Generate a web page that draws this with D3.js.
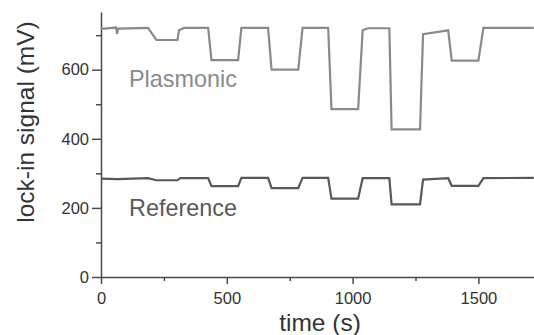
<!DOCTYPE html>
<meta charset="utf-8">
<style>

body {
  margin: 0;
  background: #fff;
}

text {
  font-family: "Liberation Sans", Arial, sans-serif;
}

.axis path,
.axis line {
  stroke: #4a4a4a;
  stroke-width: 1.5px;
}

.axis text {
  font-size: 16.5px;
  fill: #333;
}

</style>
<body>
<script src="https://cdn.jsdelivr.net/npm/d3@7/dist/d3.min.js"></script>
<script>

// step traces: [time (s), signal (mV)]
var plasmonic = [
  [0, 718], [60, 722], [64, 704], [68, 719], [187, 721], [220, 686], [304, 686],
  [310, 714], [330, 721], [426, 721], [439, 628], [545, 628], [558, 721],
  [664, 721], [678, 600], [784, 600], [801, 721], [903, 721], [916, 486],
  [1022, 486], [1040, 714], [1060, 720], [1146, 720], [1155, 427], [1268, 427],
  [1280, 703], [1380, 714], [1394, 626], [1500, 626], [1520, 721], [1720, 721]
];

var reference = [
  [0, 285], [64, 283], [187, 286], [220, 280], [304, 280], [315, 286],
  [426, 286], [439, 263], [545, 263], [558, 287], [664, 287], [678, 257],
  [784, 257], [801, 287], [903, 287], [916, 227], [1022, 227], [1040, 286],
  [1146, 286], [1155, 210], [1268, 210], [1280, 282], [1380, 286], [1394, 264],
  [1500, 264], [1520, 286], [1720, 287]
];

var xMajor = [0, 500, 1000, 1500],
    xMinor = [250, 750, 1250],
    yMajor = [0, 200, 400, 600],
    yMinor = [100, 300, 500, 700];

var w = 534,
    h = 335,
    left = 101,
    bottom = 277;

var x = d3.scaleLinear().domain([0, 1721]).range([left, w]);
var y = d3.scaleLinear().domain([0, 767]).range([bottom, 12]);

var svg = d3.select("body").append("svg")
    .attr("width", w)
    .attr("height", h);

// minor ticks first, majors on top
svg.append("g")
    .attr("class", "axis")
    .attr("transform", "translate(0," + bottom + ")")
    .call(d3.axisBottom(x).tickValues(xMinor).tickSize(4).tickFormat(""))
    .call(function(g) { g.select(".domain").remove(); });

svg.append("g")
    .attr("class", "axis")
    .attr("transform", "translate(" + left + ",0)")
    .call(d3.axisLeft(y).tickValues(yMinor).tickSize(5).tickFormat(""))
    .call(function(g) { g.select(".domain").remove(); });

svg.append("g")
    .attr("class", "axis")
    .attr("transform", "translate(0," + bottom + ")")
    .call(d3.axisBottom(x).tickValues(xMajor).tickFormat(d3.format("d"))
      .tickSize(7).tickSizeOuter(0).tickPadding(8));

svg.append("g")
    .attr("class", "axis")
    .attr("transform", "translate(" + left + ",0)")
    .call(d3.axisLeft(y).tickValues(yMajor).tickFormat(d3.format("d"))
      .tickSize(9).tickSizeOuter(0).tickPadding(3));

var line = d3.line()
    .x(function(d) { return x(d[0]); })
    .y(function(d) { return y(d[1]); });

svg.append("path")
    .datum(plasmonic)
    .attr("fill", "none")
    .attr("stroke", "#8a8a8a")
    .attr("stroke-width", 2.2)
    .attr("d", line);

svg.append("path")
    .datum(reference)
    .attr("fill", "none")
    .attr("stroke", "#585858")
    .attr("stroke-width", 2.2)
    .attr("d", line);

svg.append("text")
    .attr("x", 129)
    .attr("y", 87)
    .attr("fill", "#8a8a8a")
    .style("font-size", "23.4px")
    .text("Plasmonic");

svg.append("text")
    .attr("x", 129)
    .attr("y", 216)
    .attr("fill", "#585858")
    .style("font-size", "23.4px")
    .text("Reference");

svg.append("text")
    .attr("transform", "translate(34,122)rotate(-90)")
    .attr("text-anchor", "middle")
    .attr("fill", "#333")
    .style("font-size", "24.5px")
    .text("lock-in signal (mV)");

svg.append("text")
    .attr("x", 320)
    .attr("y", 331)
    .attr("text-anchor", "middle")
    .attr("fill", "#333")
    .style("font-size", "24.5px")
    .text("time (s)");

</script>
</body>
